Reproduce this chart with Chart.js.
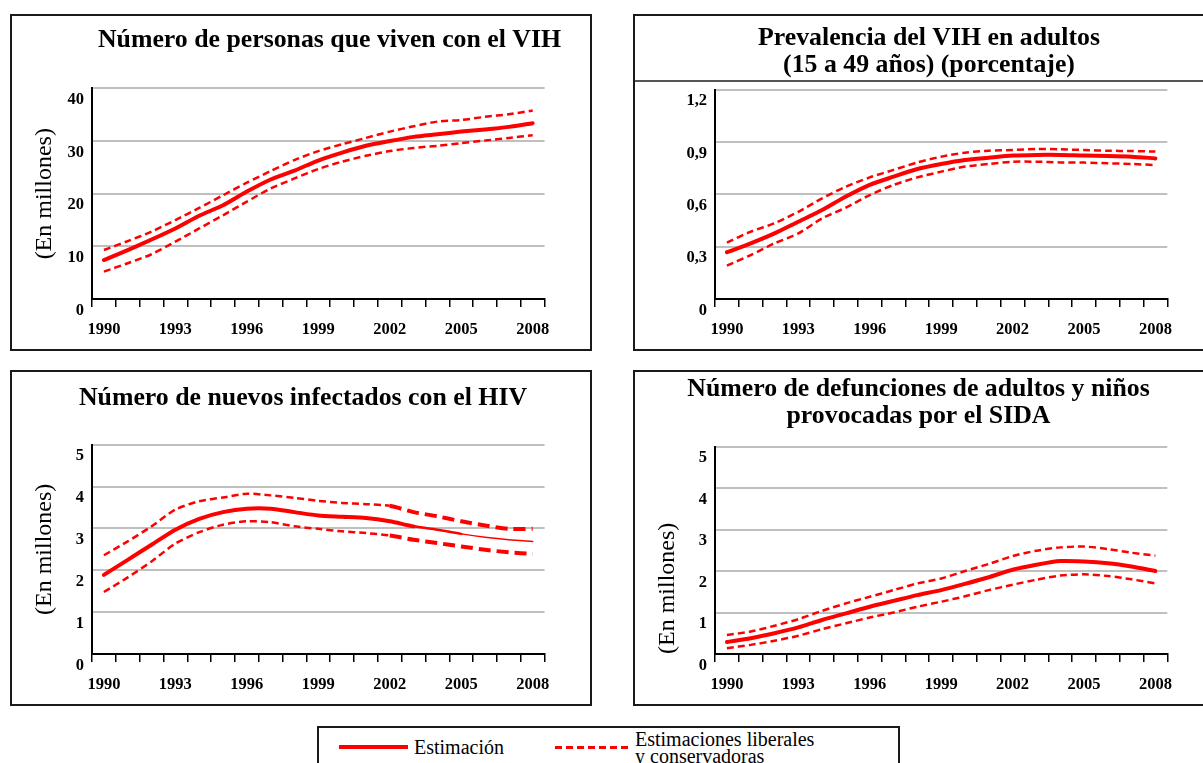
<!DOCTYPE html>
<html><head><meta charset="utf-8">
<script src="https://cdn.jsdelivr.net/npm/chart.js@4.4.1/dist/chart.umd.min.js"></script>
<style>
html,body{margin:0;padding:0;background:#fff;width:1203px;height:763px;overflow:hidden;position:relative;font-family:'Liberation Serif','Times New Roman',serif;}
.panel{position:absolute;border:2px solid #1a1a1a;box-sizing:border-box;}
canvas{position:absolute;}
.sep{position:absolute;left:635px;top:80px;width:600px;height:1.5px;background:#555;}
.legend{position:absolute;left:317px;top:726px;width:583px;height:60px;border:2px solid #1a1a1a;box-sizing:border-box;}
.lg-solid{position:absolute;left:339px;top:745px;width:69px;height:4px;background:#ff0000;}
.lg-dash{position:absolute;left:555px;top:746px;width:73px;height:2.5px;background:repeating-linear-gradient(to right,#ff0000 0 7px,transparent 7px 11px);}
.lg-t1{position:absolute;left:414px;top:736px;font-size:20px;line-height:22px;color:#000;}
.lg-t2{position:absolute;left:635px;top:731px;font-size:20px;line-height:16.5px;color:#000;}
</style></head>
<body>
<div class="panel" style="left:10px;top:14px;width:582px;height:337px"></div>
<div class="panel" style="left:633px;top:14px;width:590px;height:337px"></div>
<div class="sep"></div>
<div class="panel" style="left:10px;top:370px;width:582px;height:336px"></div>
<div class="panel" style="left:633px;top:370px;width:590px;height:336px"></div>

<canvas id="c1" width="635" height="328" style="left:12px;top:16px"></canvas>
<canvas id="c2" width="588" height="328" style="left:635px;top:16px"></canvas>
<canvas id="c3" width="582" height="327" style="left:12px;top:372px"></canvas>
<canvas id="c4" width="567" height="327" style="left:635px;top:372px"></canvas>

<div class="legend"></div>
<div class="lg-solid"></div>
<div class="lg-t1">Estimación</div>
<div class="lg-dash"></div>
<div class="lg-t2">Estimaciones liberales<br>y conservadoras</div>

<script>
// ---- data ----
const years = ['1990','1991','1992','1993','1994','1995','1996','1997','1998','1999','2000','2001','2002','2003','2004','2005','2006','2007','2008'];
const xTickLabels = ['1990','1993','1996','1999','2002','2005','2008'];

const plvEst = [7.4, 9.3, 11.3, 13.4, 15.8, 17.8, 20.4, 22.7, 24.4, 26.3, 27.8, 29.1, 30.0, 30.8, 31.3, 31.8, 32.2, 32.7, 33.4];
const plvHi  = [9.3, 11.0, 12.8, 15.0, 17.3, 19.7, 22.1, 24.3, 26.4, 28.1, 29.4, 30.6, 31.8, 32.8, 33.7, 34.0, 34.6, 35.1, 35.8];
const plvLo  = [5.2, 6.8, 8.5, 10.9, 13.4, 15.9, 18.5, 21.0, 22.9, 24.7, 26.1, 27.2, 28.1, 28.7, 29.1, 29.6, 30.1, 30.6, 31.1];
const plvTickVals = [0, 10, 20, 30, 40];
const plvTickLabels = ['0', '10', '20', '30', '40'];

const prevEst = [0.268, 0.319, 0.376, 0.443, 0.51, 0.587, 0.654, 0.701, 0.745, 0.774, 0.797, 0.81, 0.822, 0.826, 0.826, 0.822, 0.82, 0.816, 0.806];
const prevHi  = [0.323, 0.386, 0.434, 0.50, 0.577, 0.644, 0.697, 0.74, 0.783, 0.816, 0.839, 0.85, 0.854, 0.86, 0.858, 0.854, 0.85, 0.848, 0.845];
const prevLo  = [0.191, 0.252, 0.319, 0.376, 0.462, 0.524, 0.596, 0.654, 0.697, 0.73, 0.759, 0.774, 0.787, 0.787, 0.783, 0.782, 0.778, 0.774, 0.768];
const prevTickVals = [0, 0.3, 0.6, 0.9, 1.2];
const prevTickLabels = ['0', '0,3', '0,6', '0,9', '1,2'];

const newEst = [1.89, 2.25, 2.61, 2.97, 3.23, 3.39, 3.47, 3.47, 3.39, 3.31, 3.28, 3.25, 3.17, 3.05, 2.97, 2.87, 2.79, 2.73, 2.69];
const newHi  = [2.36, 2.69, 3.05, 3.45, 3.65, 3.74, 3.83, 3.79, 3.73, 3.66, 3.61, 3.58, 3.54, 3.39, 3.29, 3.17, 3.07, 2.99, 2.99];
const newLo  = [1.48, 1.83, 2.21, 2.64, 2.91, 3.09, 3.17, 3.15, 3.05, 2.99, 2.93, 2.89, 2.83, 2.73, 2.65, 2.57, 2.49, 2.43, 2.39];

const deathEst = [0.29, 0.38, 0.50, 0.64, 0.82, 0.98, 1.14, 1.28, 1.42, 1.54, 1.69, 1.85, 2.03, 2.15, 2.24, 2.23, 2.19, 2.11, 2.0];
const deathHi  = [0.46, 0.54, 0.68, 0.84, 1.04, 1.22, 1.38, 1.54, 1.70, 1.82, 2.0, 2.17, 2.36, 2.49, 2.57, 2.59, 2.53, 2.44, 2.37];
const deathLo  = [0.14, 0.22, 0.32, 0.44, 0.60, 0.74, 0.88, 1.0, 1.14, 1.26, 1.39, 1.54, 1.67, 1.79, 1.89, 1.92, 1.88, 1.80, 1.70];
const millTickVals = [0, 1, 2, 3, 4, 5];
const millTickLabels = ['0', '1', '2', '3', '4', '5'];

// ---- styling ----
const SERIF = "'Liberation Serif', 'Times New Roman', serif";
const RED = '#ff0000';

function series(est, hi, lo, seg) {
  const base = {pointRadius: 0, borderColor: RED, backgroundColor: RED, fill: false, tension: 0.25};
  const e = Object.assign({}, base, {label: 'Estimación', data: est, borderWidth: 4, borderCapStyle: 'round'});
  const h = Object.assign({}, base, {label: 'Estimaciones liberales', data: hi, borderWidth: 2.5, borderDash: [7, 4]});
  const l = Object.assign({}, base, {label: 'Estimaciones conservadoras', data: lo, borderWidth: 2.5, borderDash: [7, 4]});
  if (seg) {
    e.segment = {borderWidth: c => c.p0DataIndex >= 15 ? 1.5 : (c.p0DataIndex >= 13 ? 2.5 : 4)};
    const dseg = {
      borderWidth: c => c.p0DataIndex >= 12 ? 4 : 2.5,
      borderDash: c => c.p0DataIndex >= 12 ? [12, 6] : [7, 4]
    };
    h.segment = dseg; l.segment = dseg;
  }
  return [h, l, e];
}

function makeChart(id, o) {
  new Chart(document.getElementById(id), {
    type: 'line',
    data: {labels: years, datasets: o.datasets},
    options: {
      responsive: false, animation: false, devicePixelRatio: 1,
      layout: {padding: 0},
      plugins: {
        legend: {display: false},
        tooltip: {enabled: false},
        title: {
          display: true, text: o.title, color: '#000',
          font: {family: SERIF, size: 25.8, weight: 'bold', lineHeight: 1.04},
          padding: {top: o.tPad[0], bottom: o.tPad[1]}
        }
      },
      scales: {
        x: {
          type: 'category', offset: true,
          grid: {offset: true, drawOnChartArea: false, drawTicks: true, tickLength: 8, color: '#000', lineWidth: 1.5},
          border: {display: true, color: '#000', width: 2},
          ticks: {
            autoSkip: false, maxRotation: 0, minRotation: 0, padding: 12.5, color: '#000',
            font: {family: SERIF, size: 16.5, weight: 'bold'},
            callback: function(v, i) { const l = years[i]; return xTickLabels.includes(l) ? l : ''; }
          },
          afterFit: s => { s.height = 45; }
        },
        y: {
          type: 'linear', position: 'left', min: 0, max: o.yMax,
          afterBuildTicks: s => { s.ticks = o.yVals.map(v => ({value: v})); },
          grid: {drawTicks: false, color: '#c0c0c0', lineWidth: 2},
          border: {display: true, color: '#000', width: 2},
          ticks: {
            padding: 8, labelOffset: 11.5, color: '#000',
            font: {family: SERIF, size: 16.5, weight: 'bold'},
            callback: function(v, i) { return o.yLabels[o.yVals.indexOf(v)] ?? ''; }
          },
          title: o.yTitle ? {
            display: true, text: '(En millones)', color: '#000', align: o.yAlign || 'center',
            font: {family: SERIF, size: 24, weight: 'normal'},
            padding: {top: 18.6, bottom: 0}
          } : {display: false},
          afterFit: s => { s.width = 80; }
        },
        yR: {
          type: 'linear', position: 'right', display: true,
          grid: {display: false}, border: {display: false}, ticks: {display: false},
          afterFit: s => { s.width = o.rightW; }
        }
      }
    }
  });
}

makeChart('c1', {
  title: 'Número de personas que viven con el VIH', tPad: [10.6, 35],
  yMax: 40, yVals: plvTickVals, yLabels: plvTickLabels, yTitle: true, rightW: 102.4,
  datasets: series(plvEst, plvHi, plvLo, false)
});
makeChart('c2', {
  title: ['Prevalencia del VIH en adultos', '(15 a 49 años) (porcentaje)'], tPad: [8.9, 11.1],
  yMax: 1.2, yVals: prevTickVals, yLabels: prevTickLabels, yTitle: false, rightW: 55.7,
  datasets: series(prevEst, prevHi, prevLo, false)
});
makeChart('c3', {
  title: 'Número de nuevos infectados con el HIV', tPad: [12.6, 33.3],
  yMax: 5, yVals: millTickVals, yLabels: millTickLabels, yTitle: true, rightW: 49.4,
  datasets: series(newEst, newHi, newLo, true)
});
makeChart('c4', {
  title: ['Número de defunciones de adultos y niños', 'provocadas por el SIDA'], tPad: [3.8, 17.1],
  yMax: 5, yVals: millTickVals, yLabels: millTickLabels, yTitle: true, yAlign: 'start', rightW: 34.7,
  datasets: series(deathEst, deathHi, deathLo, false)
});
</script>
</body></html>
